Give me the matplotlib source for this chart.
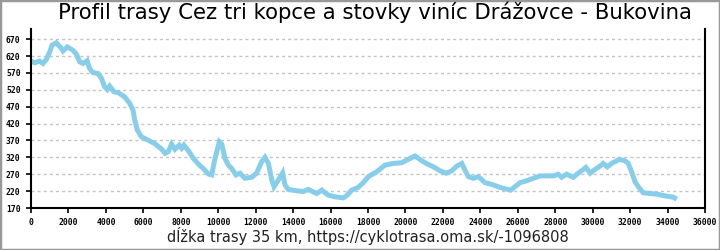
import matplotlib
matplotlib.use('Agg')
import matplotlib.pyplot as plt
from matplotlib.patches import Rectangle

# distance along the route (m) and elevation (m a.s.l.)
distance = [0, 200, 460, 640, 820, 1000, 1120, 1350, 1620, 1710, 1940, 2240,
            2420, 2600, 2780, 3000, 3130, 3310, 3580, 3760, 3930, 4075, 4200,
            4430, 4680, 5000, 5270, 5450, 5540, 5680, 5890, 6250, 6600, 6960,
            7160, 7330, 7510, 7690, 7920, 8050, 8170, 8400, 8670, 8940, 9200,
            9470, 9650, 9830, 10060, 10190, 10360, 10540, 10720, 10950, 11160,
            11430, 11790, 12050, 12320, 12500, 12680, 12860, 12980, 13210,
            13440, 13570, 13740, 14190, 14540, 14810, 15260, 15530, 15880,
            16240, 16680, 16890, 17130, 17480, 17750, 18020, 18460, 18910,
            19350, 19800, 20150, 20510, 20870, 21180, 21490, 21850, 22170,
            22470, 22740, 23010, 23180, 23360, 23620, 23890, 24250, 24610,
            25050, 25490, 25620, 25850, 26120, 26480, 26830, 27190, 27900,
            28160, 28340, 28610, 28960, 29230, 29500, 29640, 29860, 30120,
            30390, 30570, 30780, 31010, 31190, 31420, 31720, 31900, 32080,
            32260, 32440, 32700, 33060, 33420, 33860, 34310, 34490]
elevation = [605, 600, 605, 598, 610, 632, 652, 659, 643, 635, 647, 637,
             626, 603, 598, 606, 583, 571, 568, 554, 529, 521, 531,
             514, 511, 499, 480, 460, 430, 401, 381, 371, 361, 345,
             332, 337, 359, 344, 356, 347, 356, 340, 317, 300, 287,
             271, 268, 317, 366, 359, 317, 297, 287, 268, 273,
             258, 261, 273, 307, 320, 302, 253, 233, 253,
             274, 238, 225, 221, 219, 225, 213, 223, 208,
             203, 200, 208, 223, 231, 245, 263, 277, 297,
             302, 304, 314, 324, 310, 300, 292, 280, 273,
             280, 294, 302, 282, 263, 258, 263, 245, 240,
             231, 225, 223, 233, 245, 251, 258, 265, 265,
             270, 261, 270, 261, 273, 284, 290, 273, 284,
             294, 302, 292, 302, 307, 314, 310, 302, 277,
             248, 233, 215, 213, 211, 206, 202, 196]

x_ticks = list(range(0, 36001, 2000))
y_ticks = list(range(170, 671, 50))

title = 'Profil trasy Cez tri kopce a stovky viníc Drážovce - Bukovina'
x_label = 'dĺžka trasy 35 km, https://cyklotrasa.oma.sk/-1096808'

fig = plt.figure(figsize=(7.2, 2.5), dpi=100)
ax = fig.add_axes([31 / 720, 1 - 208 / 250, 674 / 720, 179 / 250])

ax.plot(distance, elevation, color='#87ceeb', linewidth=3.6,
        solid_joinstyle='miter', solid_capstyle='butt')

ax.set_xlim(0, 36000)
ax.set_ylim(170, 700)
ax.set_xticks(x_ticks)
ax.set_yticks(y_ticks)

# horizontal dashed grid only
ax.yaxis.grid(True, color='#c4c4c4', linestyle=(0, (2.2, 2.2)), linewidth=1)
ax.xaxis.grid(False)
ax.set_axisbelow(True)

ax.spines['top'].set_visible(False)
for side in ['left', 'right', 'bottom']:
    ax.spines[side].set_linewidth(1.5)
    ax.spines[side].set_color('black')

ax.tick_params(axis='both', direction='out', length=3.5, width=1.2,
               labelsize=5.8, colors='black')
ax.tick_params(axis='y', pad=4)
ax.tick_params(axis='x', pad=3.5)
for lbl in ax.get_xticklabels() + ax.get_yticklabels():
    lbl.set_family('DejaVu Sans Mono')
    lbl.set_fontweight('bold')

fig.text(374.5 / 720, 1 - 12.5 / 250, title, ha='center', va='center',
         fontsize=15.3, family='DejaVu Sans')
fig.text(367.5 / 720, 1 - 236 / 250, x_label, ha='center', va='center',
         fontsize=10.5, family='DejaVu Sans', color='#222222')

# gray frame around the whole picture
fig.patches.append(Rectangle((0, 0), 1, 1, transform=fig.transFigure,
                             fill=False, edgecolor='#999999', linewidth=2.5))

fig.savefig('out.png', dpi=100)
